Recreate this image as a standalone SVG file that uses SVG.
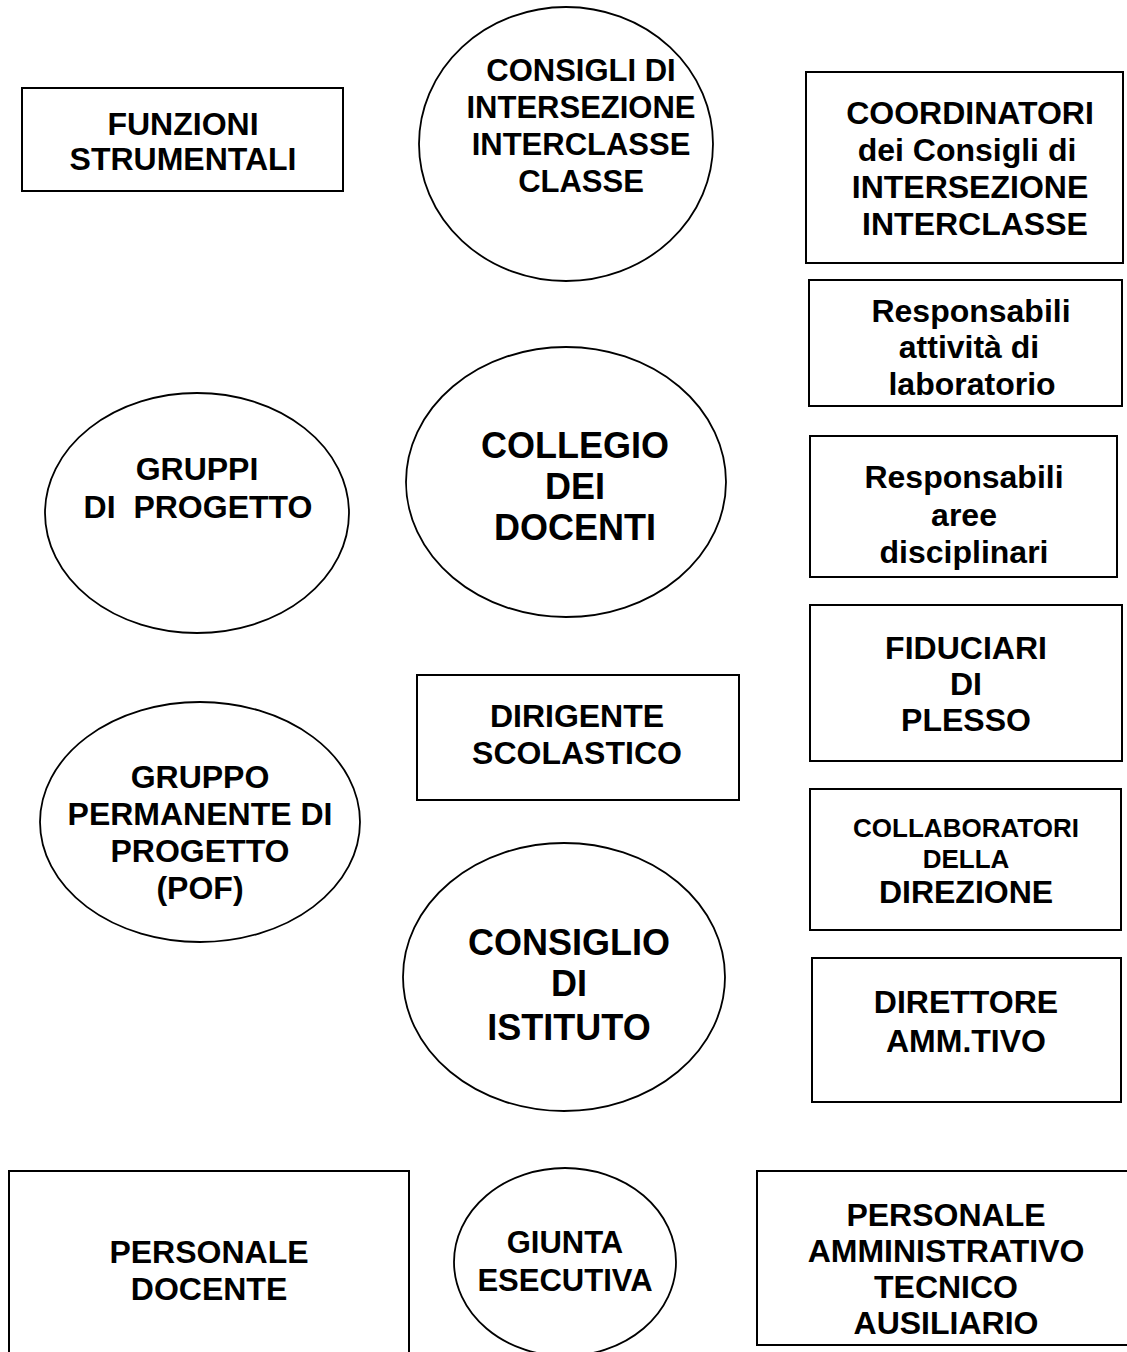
<svg xmlns="http://www.w3.org/2000/svg" width="1127" height="1352" viewBox="0 0 1127 1352">
<style>
.box{fill:#fff;stroke:#000;stroke-width:2}
.ell{fill:#fff;stroke:#000;stroke-width:1.8}
text{font-family:"Liberation Sans",Arial,sans-serif;font-weight:bold;fill:#000;text-anchor:middle;font-size:32px}
.big{font-size:36px}
.mid{font-size:31px}
.g{font-size:31px}
.sm{font-size:26px}
</style>
<rect width="1127" height="1352" fill="#fff"/>
<g id="connectors"></g>
<g id="funzioni"><rect class="box" x="22" y="88" width="321" height="103"/>
<text x="183" y="135">FUNZIONI</text><text x="183" y="170">STRUMENTALI</text></g>
<g id="consigli"><ellipse class="ell" cx="566" cy="144" rx="147" ry="137"/>
<text class="mid" x="581" y="81">CONSIGLI DI</text><text class="mid" x="581" y="118">INTERSEZIONE</text><text class="mid" x="581" y="155">INTERCLASSE</text><text class="mid" x="581" y="192">CLASSE</text></g>
<g id="coordinatori"><rect class="box" x="806" y="72" width="317" height="191"/>
<text x="970" y="124">COORDINATORI</text><text x="967" y="161">dei Consigli di</text><text x="970" y="198">INTERSEZIONE</text><text x="975" y="235">INTERCLASSE</text></g>
<g id="resp-lab"><rect class="box" x="809" y="280" width="313" height="126"/>
<text x="971" y="322">Responsabili</text><text x="969" y="358">attività di</text><text x="972" y="395">laboratorio</text></g>
<g id="resp-aree"><rect class="box" x="810" y="436" width="307" height="141"/>
<text x="964" y="488">Responsabili</text><text x="964" y="526">aree</text><text x="964" y="563">disciplinari</text></g>
<g id="gruppi"><ellipse class="ell" cx="197" cy="513" rx="152" ry="120"/>
<text x="197" y="480">GRUPPI</text><text x="198" y="518" xml:space="preserve">DI  PROGETTO</text></g>
<g id="collegio"><ellipse class="ell" cx="566" cy="482" rx="160" ry="135"/>
<text class="big" x="575" y="458">COLLEGIO</text><text class="big" x="575" y="499">DEI</text><text class="big" x="575" y="540">DOCENTI</text></g>
<g id="fiduciari"><rect class="box" x="810" y="605" width="312" height="156"/>
<text x="966" y="659">FIDUCIARI</text><text x="966" y="695">DI</text><text x="966" y="731">PLESSO</text></g>
<g id="dirigente"><rect class="box" x="417" y="675" width="322" height="125"/>
<text x="577" y="727">DIRIGENTE</text><text x="577" y="764">SCOLASTICO</text></g>
<g id="gruppo-pof"><ellipse class="ell" cx="200" cy="822" rx="160" ry="120"/>
<text x="200" y="788">GRUPPO</text><text x="200" y="825">PERMANENTE DI</text><text x="200" y="862">PROGETTO</text><text x="200" y="899">(POF)</text></g>
<g id="collaboratori"><rect class="box" x="810" y="789" width="311" height="141"/>
<text class="sm" x="966" y="837">COLLABORATORI</text><text class="sm" x="966" y="868">DELLA</text><text x="966" y="903">DIREZIONE</text></g>
<g id="istituto"><ellipse class="ell" cx="564" cy="977" rx="161" ry="134"/>
<text class="big" x="569" y="955">CONSIGLIO</text><text class="big" x="569" y="996">DI</text><text class="big" x="569" y="1040">ISTITUTO</text></g>
<g id="direttore"><rect class="box" x="812" y="958" width="309" height="144"/>
<text x="966" y="1013">DIRETTORE</text><text x="966" y="1052">AMM.TIVO</text></g>
<g id="docente"><rect class="box" x="9" y="1171" width="400" height="190"/>
<text x="209" y="1263">PERSONALE</text><text x="209" y="1300">DOCENTE</text></g>
<g id="giunta"><ellipse class="ell" cx="565" cy="1262" rx="111" ry="94"/>
<text class="g" x="565" y="1253">GIUNTA</text><text class="g" x="565" y="1291">ESECUTIVA</text></g>
<g id="ata"><rect class="box" x="757" y="1171" width="380" height="174"/>
<text x="946" y="1226">PERSONALE</text><text x="946" y="1262">AMMINISTRATIVO</text><text x="946" y="1298">TECNICO</text><text x="946" y="1334">AUSILIARIO</text></g>
</svg>
